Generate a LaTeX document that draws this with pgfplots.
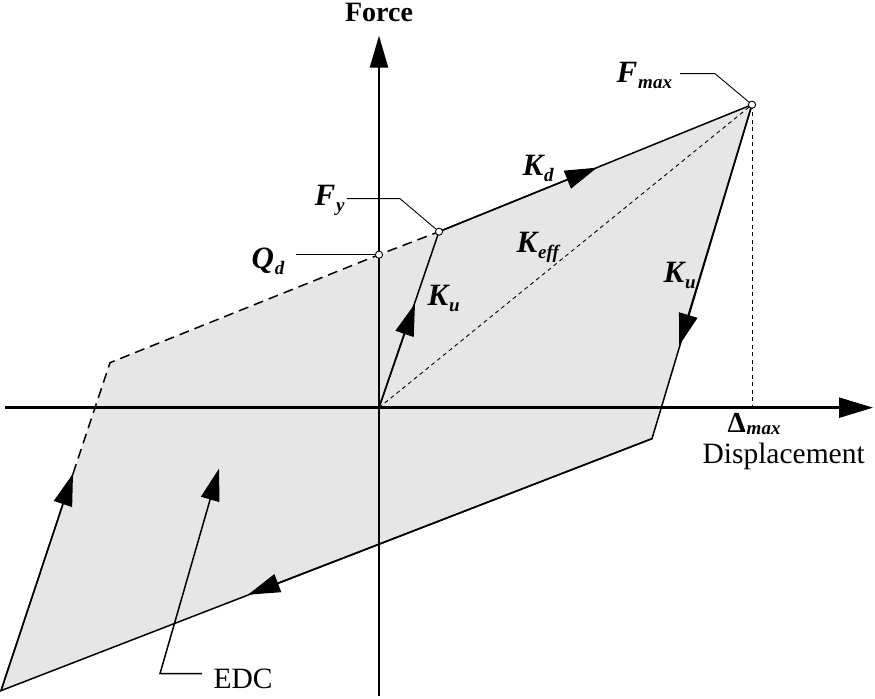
\documentclass[border=0pt]{standalone}
\usepackage{pgfplots}
\pgfplotsset{compat=1.18}
\usepackage{fontspec}
\setmainfont{Liberation Serif}
\usetikzlibrary{arrows.meta}

\definecolor{loopfill}{RGB}{230,230,230}

% bold italic symbol with a smaller bold italic subscript
\newcommand{\sym}[2]{{\fontsize{31}{32}\selectfont\bfseries\itshape #1\kern1pt\raisebox{-6pt}{\fontsize{19}{19}\selectfont #2}}}
\tikzset{flow/.style={line width=1.5pt, -{Triangle[length=32pt,width=19pt]}}}

\begin{document}
\begin{tikzpicture}
\begin{axis}[
  x=1pt, y=1pt,
  xmin=-379, xmax=496, ymin=-291, ymax=407,
  hide axis, clip=false,
  every node/.style={inner sep=0pt},
]
% page extent
\path (axis cs:-379,-291) rectangle (axis cs:496,407);

% hysteresis loop area
\addplot[draw=none, fill=loopfill] coordinates
  {(-269,45) (60,176) (373,303) (273,-31) (-378,-283)} -- cycle;

% effective stiffness and Delta_max drop line
\addplot[black, line width=0.9pt, dash pattern=on 4pt off 3.5pt] coordinates {(0,0) (373,303)};
\addplot[black, line width=0.9pt, dash pattern=on 4pt off 3.5pt] coordinates {(373,303) (373,0)};

% axes
\draw[line width=2.4pt, -{Triangle[length=34pt,width=20pt]}] (axis cs:-374,0) -- (axis cs:494,0);
\draw[line width=2.4pt, -{Triangle[length=32pt,width=18pt]}] (axis cs:0,-288) -- (axis cs:0,372);

% loop branches
\addplot[black, line width=1.5pt] coordinates
  {(60,176) (373,303) (273,-31) (-378,-283) (-306,-66)};
\addplot[black, line width=1.5pt, dash pattern=on 10pt off 6pt] coordinates
  {(-306,-66) (-269,45) (0,153) (60,176)};
\addplot[black, line width=1.5pt] coordinates {(0,0) (60,176)};

% direction arrows along the loop
\draw[flow] (axis cs:60,176) -- (axis cs:218,240);
\draw[flow] (axis cs:373,303) -- (axis cs:300,62);
\draw[flow] (axis cs:273,-31) -- (axis cs:-131,-187);
\draw[flow] (axis cs:-378,-283) -- (axis cs:-306,-66);
\draw[flow] (axis cs:0,0) -- (axis cs:36,104);

% EDC pointer
\draw[flow] (axis cs:-177,-266) -- (axis cs:-219,-266) -- (axis cs:-160,-61);

% leader lines
\draw[line width=0.9pt] (axis cs:301,334) -- (axis cs:336,334) -- (axis cs:373,303);
\draw[line width=0.9pt] (axis cs:-32,209) -- (axis cs:21,209) -- (axis cs:60,176);
\draw[line width=0.9pt] (axis cs:-83,153) -- (axis cs:0,153);

% key points
\addplot[only marks, mark=*, mark size=3.6pt, mark options={fill=white, draw=black, line width=0.9pt}]
  coordinates {(0,153) (60,176) (373,303)};

% labels
\node[anchor=base] at (axis cs:0,386) {\fontsize{28}{30}\selectfont\bfseries Force};
\node[anchor=base west] at (axis cs:320,-56) {\fontsize{29.5}{30}\selectfont Displacement};
\node[anchor=base west] at (axis cs:-169,-281) {\fontsize{29.5}{30}\selectfont EDC};
\node[anchor=base west] at (axis cs:234,325) {\sym{F}{max}};
\node[anchor=base west] at (axis cs:-68,202) {\sym{F}{y}};
\node[anchor=base west] at (axis cs:-131,139) {\sym{Q}{d}};
\node[anchor=base west] at (axis cs:140,232) {\sym{K}{d}};
\node[anchor=base west] at (axis cs:134,155) {\sym{K}{eff}};
\node[anchor=base west] at (axis cs:281,125) {\sym{K}{u}};
\node[anchor=base west] at (axis cs:45,102) {\sym{K}{u}};
\node[anchor=base west] at (axis cs:345,-25) {{\fontsize{29}{30}\selectfont\bfseries\symbol{"0394}}\kern1pt\raisebox{-2pt}{\fontsize{19}{19}\selectfont\bfseries\itshape max}};
\end{axis}
\end{tikzpicture}
\end{document}
